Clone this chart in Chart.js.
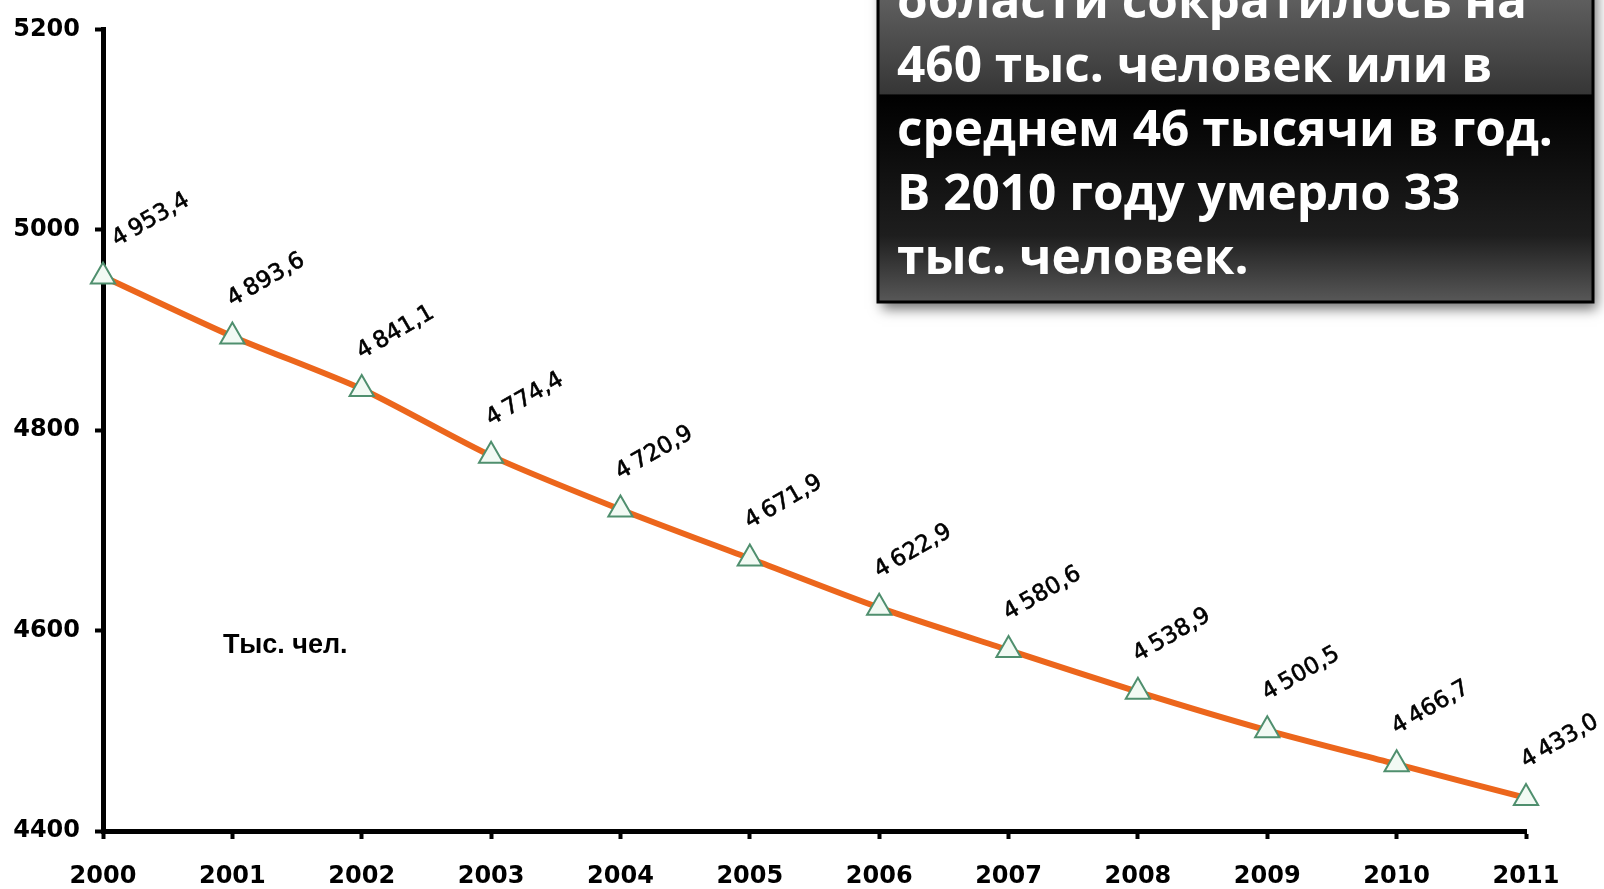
<!DOCTYPE html>
<html>
<head>
<meta charset="utf-8">
<script src="https://cdn.jsdelivr.net/npm/chart.js@4.4.1/dist/chart.umd.min.js"></script>
<style>
  html, body { margin: 0; padding: 0; background: #fff; overflow: hidden; }
</style>
</head>
<body>
<canvas id="populationChart" width="1604" height="889"></canvas>
<script>
// population, thousand people
const years = ['2000', '2001', '2002', '2003', '2004', '2005', '2006', '2007', '2008', '2009', '2010', '2011'];
const population = [4953.4, 4893.6, 4841.1, 4774.4, 4720.9, 4671.9, 4622.9, 4580.6, 4538.9, 4500.5, 4466.7, 4433.0];
const yTicks = [4400, 4600, 4800, 5000, 5200];
const unitLabel = 'Тыс. чел.';
const noteLines = [
    'области сократилось на',
    '460 тыс. человек или в',
    'среднем 46 тысячи в год.',
    'В 2010 году умерло 33',
    'тыс. человек.'
];

function formatValue(v) {
    const s = v.toFixed(1).replace('.', ',');
    return s.slice(0, 1) + '\u2009' + s.slice(1);
}

// rotated value labels above each point
const pointLabels = {
    id: 'pointLabels',
    afterDatasetsDraw(chart) {
        const ctx = chart.ctx;
        const meta = chart.getDatasetMeta(0);
        ctx.save();
        ctx.font = '23px "DejaVu Sans"';
        ctx.fillStyle = '#000';
        ctx.strokeStyle = '#000';
        ctx.lineWidth = 0.6;
        ctx.textAlign = 'left';
        ctx.textBaseline = 'alphabetic';
        meta.data.forEach(function (pt, i) {
            const dx = i === 0 ? 14 : 0;
            ctx.save();
            ctx.translate(pt.x + dx, pt.y - 30);
            ctx.rotate(-Math.PI / 6);
            ctx.fillText(formatValue(population[i]), 0, 0);
            ctx.strokeText(formatValue(population[i]), 0, 0);
            ctx.restore();
        });
        ctx.font = 'bold 27px "Liberation Sans"';
        ctx.fillText(unitLabel, 223, 653);
        ctx.restore();
    }
};

// dark note box in the top right corner
const noteBox = {
    id: 'noteBox',
    afterDraw(chart) {
        const ctx = chart.ctx;
        const x0 = 878, y0 = -20, x1 = 1593, y1 = 302;
        ctx.save();
        const g = ctx.createLinearGradient(0, 0, 0, y1);
        g.addColorStop(0, '#5e5e5e');
        g.addColorStop(0.31, '#363636');
        g.addColorStop(0.315, '#000000');
        g.addColorStop(0.78, '#1e1e1e');
        g.addColorStop(1, '#585858');
        ctx.shadowColor = 'rgba(0,0,0,0.55)';
        ctx.shadowBlur = 12;
        ctx.shadowOffsetX = 4;
        ctx.shadowOffsetY = 7;
        ctx.fillStyle = g;
        ctx.fillRect(x0, y0, x1 - x0, y1 - y0);
        ctx.shadowColor = 'transparent';
        ctx.lineWidth = 3;
        ctx.strokeStyle = '#000';
        ctx.strokeRect(x0, y0, x1 - x0, y1 - y0);

        ctx.font = 'bold 51px "Open Sans"';
        ctx.fillStyle = '#fff';
        ctx.textBaseline = 'alphabetic';
        const sx = 656 / ctx.measureText(noteLines[2]).width;
        ctx.translate(897, 0);
        ctx.scale(sx, 1);
        noteLines.forEach(function (line, i) {
            ctx.fillText(line, 0, 18 + i * 64);
        });
        ctx.restore();
    }
};

const axisFont = { family: 'DejaVu Sans', size: 24, weight: 'bold' };

new Chart(document.getElementById('populationChart'), {
    type: 'line',
    data: {
        labels: years,
        datasets: [{
            data: population,
            borderColor: '#EC661C',
            borderWidth: 6,
            tension: 0.25,
            pointStyle: 'triangle',
            pointRadius: 14,
            pointBackgroundColor: '#F2FAF4',
            pointBorderColor: '#4F8F6E',
            pointBorderWidth: 2,
            clip: false
        }]
    },
    options: {
        responsive: false,
        animation: false,
        devicePixelRatio: 1,
        layout: { padding: { top: 24, right: 78, left: 0, bottom: 0 } },
        plugins: {
            legend: { display: false },
            tooltip: { enabled: false }
        },
        scales: {
            x: {
                offset: false,
                grid: { drawOnChartArea: false, drawTicks: true, tickLength: 8, tickColor: '#000', tickWidth: 4 },
                border: { color: '#000', width: 5 },
                ticks: { color: '#000', font: axisFont, padding: 23, maxRotation: 0 },
                afterFit: function (s) { s.height = 58; }
            },
            y: {
                min: yTicks[0],
                max: yTicks[yTicks.length - 1],
                grid: { drawOnChartArea: false, drawTicks: true, tickLength: 8, tickColor: '#000', tickWidth: 4 },
                border: { color: '#000', width: 5 },
                ticks: {
                    stepSize: 200, color: '#000', font: axisFont, padding: 15,
                    callback: function (value) { return String(value); }
                },
                afterFit: function (s) { s.width = 103; }
            }
        }
    },
    plugins: [pointLabels, noteBox]
});
</script>
</body>
</html>
